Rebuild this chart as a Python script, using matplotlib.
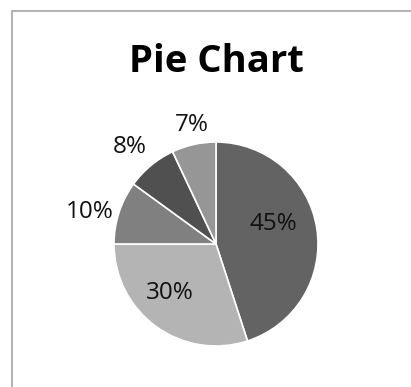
import numpy as np
import matplotlib.pyplot as plt
from matplotlib.patches import Rectangle

# slice data, clockwise from 12 o'clock
shares = [45, 30, 10, 8, 7]
labels = ['45%', '30%', '10%', '8%', '7%']
colors = ['#636363', '#b4b4b4', '#808080', '#505050', '#969696']

W, H = 411, 387
cx, cy, r = 216, 244, 102   # pie centre / radius in pixels

fig = plt.figure(figsize=(W / 100, H / 100), dpi=100)
ax = fig.add_axes([0, 0, 1, 1])

wedges, _ = ax.pie(shares, colors=colors, startangle=90, counterclock=False,
                   radius=1, wedgeprops=dict(edgecolor='white', linewidth=1.2))

# map the axes so 1 data unit = radius in pixels
ax.set_xlim(-cx / r, (W - cx) / r)
ax.set_ylim(-(H - cy) / r, cy / r)
ax.set_aspect('auto')
ax.axis('off')

# label placement (Excel "best fit" look): distance and angle tweak per slice
dist = [0.6, 0.66, 1.28, 1.27, 1.19]
nudge = [10, -7, 4, 2, -1]
for w, lab, d, n in zip(wedges, labels, dist, nudge):
    ang = np.deg2rad((w.theta1 + w.theta2) / 2 + n)
    ax.text(d * np.cos(ang), d * np.sin(ang), lab, ha='center', va='center',
            fontsize=17.5, family=['Open Sans', 'DejaVu Sans'], color='#111111')

fig.text(216 / W, 1 - 62 / H, 'Pie Chart', ha='center', va='center',
         fontsize=27.5, fontweight='bold', family=['Open Sans', 'DejaVu Sans'])

# chart border (right and bottom edges fall outside the image)
fig.patches.append(Rectangle((11.5 / W, -0.1), 1.2, 1 - 10.5 / H + 0.1,
                             transform=fig.transFigure, fill=False,
                             edgecolor='#a6a6a6', linewidth=1.2))

fig.savefig('out.png', dpi=100)
